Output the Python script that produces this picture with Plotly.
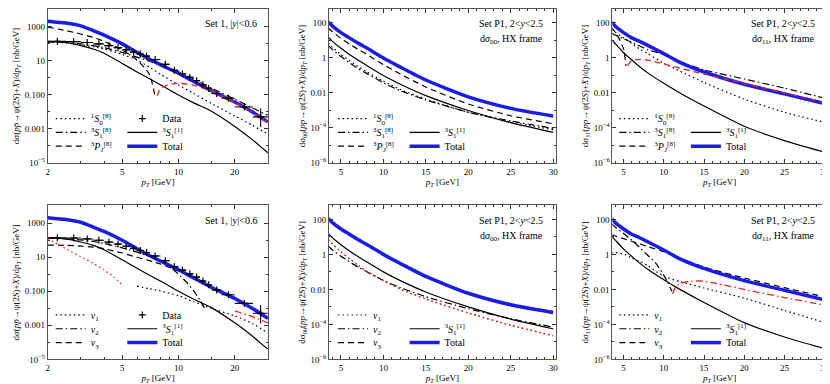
import plotly.graph_objects as go
from plotly.subplots import make_subplots

# ---------------- Tevatron, Set 1, |y|<0.6 (left column) ----------------
pt_tev = [2, 2.5, 3, 3.5, 4, 5, 6, 7, 8, 10, 12, 15, 20, 25, 30]
total_tev = [2140, 1660, 1150, 600, 330, 100, 31.6, 12.6, 6.0, 1.86, 0.63, 0.174, 0.038, 0.0095, 0.0026]
cs_tev = [141, 120, 79, 50, 28, 7.1, 2.24, 0.89, 0.40, 0.10, 0.035, 0.011, 0.0014, 0.00022, 0.00004]
s1_tev = [126, 112, 89, 68, 50, 24, 11.2, 4.2, 1.66, 0.38, 0.126, 0.0316, 0.0058, 0.00158, 0.0005]
s8_tev = [132, 120, 100, 79, 60, 31.6, 16.6, 9.5, 5.6, 2.24, 0.89, 0.25, 0.056, 0.0166, 0.0063]
pj_pt_tev = [2, 2.5, 3, 3.5, 4, 5, 6, 7, 7.5]
pj_tev = [955, 603, 380, 240, 141, 44.7, 11.2, 1.58, 0.079]
pj_neg_pt_tev = [7.7, 8, 9, 10, 12, 15, 20, 25, 30]
pj_neg_tev = [0.089, 0.24, 0.417, 0.479, 0.38, 0.166, 0.0355, 0.0089, 0.0025]

v1_neg_pt_tev = [2, 2.5, 3, 3.5, 4, 4.5, 5]
v1_neg_tev = [126, 31.6, 10.7, 4.47, 1.82, 0.71, 0.24]
v1_pt_tev = [6, 7, 8, 10, 12, 15, 20, 25, 30]
v1_tev = [0.2, 0.141, 0.105, 0.056, 0.025, 0.01, 0.00355, 0.00126, 0.000355]
v2_pt_tev = [2, 2.5, 3, 3.5, 4, 5, 6, 7, 8, 9, 10, 11, 12, 13, 13.8]
v2_tev = [132, 120, 105, 85, 66, 35.5, 20, 11.2, 6.0, 2.8, 1.0, 0.355, 0.112, 0.0316, 0.01]
v2_neg_pt_tev = [20, 25, 30]
v2_neg_tev = [0.0071, 0.00316, 0.0014]
v3_tev = [52.5, 50.1, 45.7, 39.8, 31.6, 17.8, 10, 6.3, 4.0, 1.58, 0.56, 0.158, 0.034, 0.0085, 0.0024]

# CDF data: bin edges, values, errors
data_lo = [2, 2.5, 3, 3.5, 4, 4.5, 5, 5.5, 6, 6.5, 7, 8, 9, 10, 11, 12, 13, 14, 15, 17, 20, 25]
data_hi = [2.5, 3, 3.5, 4, 4.5, 5, 5.5, 6, 6.5, 7, 8, 9, 10, 11, 12, 13, 14, 15, 17, 20, 25, 30]
data_val = [141, 135, 120, 100, 79, 60, 44.7, 33, 25, 19, 12, 6.3, 2.8, 1.78, 1.07, 0.69, 0.4, 0.24,
            0.12, 0.063, 0.0195, 0.0051]
data_err_up = [10, 9, 8, 7, 5, 4, 3, 2.4, 1.8, 1.4, 0.9, 0.45, 0.2, 0.13, 0.08, 0.05, 0.03, 0.02,
               0.01, 0.006, 0.003, 0.0107]
data_err_dn = [10, 9, 8, 7, 5, 4, 3, 2.4, 1.8, 1.4, 0.9, 0.45, 0.2, 0.13, 0.08, 0.05, 0.03, 0.02,
               0.01, 0.006, 0.003, 0.0038]

# ---------------- LHCb, Set P1, 2<y<2.5 ----------------
pt_lhcb = [3.5, 4, 5, 6, 7, 8, 10, 12, 15, 20, 25, 30]
# d sigma_00
total00 = [112, 66, 28.2, 14.1, 7.08, 3.8, 1.0, 0.302, 0.055, 0.006, 0.00132, 0.00048]
pj00 = [52.5, 31.6, 13.2, 6.3, 3.16, 1.66, 0.417, 0.12, 0.0219, 0.00234, 0.0005, 0.000174]
cs00 = [15.5, 8.9, 3.55, 1.58, 0.76, 0.38, 0.1, 0.0316, 0.0071, 0.001, 0.0002, 0.000056]
s1_00 = [7.1, 4.0, 1.58, 0.71, 0.33, 0.166, 0.047, 0.0158, 0.00447, 0.00079, 0.000224, 0.000079]
s8_00 = [5.25, 3.0, 1.2, 0.54, 0.25, 0.132, 0.038, 0.0135, 0.004, 0.00079, 0.00025, 0.000095]
v1_neg00 = [7.1, 4.0, 1.41, 0.56, 0.24, 0.112, 0.0316, 0.0105, 0.0028, 0.00045, 0.000089, 0.0000224]
v2_00 = [2.95, 1.78, 0.79, 0.38, 0.19, 0.105, 0.0316, 0.0126, 0.0038, 0.00079, 0.00021, 0.00007]
v3_00 = [100, 60, 25.7, 12.9, 6.5, 3.47, 0.89, 0.27, 0.049, 0.0054, 0.00117, 0.00043]
# d sigma_11
total11 = [112, 63, 28.2, 14.1, 8.9, 5.25, 1.78, 0.56, 0.158, 0.0316, 0.0089, 0.0025]
cs11 = [11.2, 6.3, 2.0, 0.79, 0.316, 0.141, 0.0355, 0.01, 0.00178, 0.000126, 0.000019, 0.0000041]
s1_11 = [41.7, 28.2, 14.1, 7.1, 3.16, 1.78, 0.5, 0.178, 0.04, 0.00447, 0.00079, 0.00021]
s8_11 = [26.9, 20, 12.6, 7.9, 4.8, 3.0, 1.58, 0.63, 0.209, 0.063, 0.019, 0.005]
pj_pt11 = [3.5, 4, 4.5, 5, 5.3]
pj11 = [56, 28.2, 11.2, 3.16, 0.355]
pj_neg_pt11 = [5.5, 6, 7, 8, 10, 12, 15, 20, 25, 30]
pj_neg11 = [0.355, 0.71, 0.83, 0.76, 0.447, 0.263, 0.12, 0.035, 0.01, 0.0028]
v1_11 = [1.26, 1.26, 1.05, 0.63, 0.4, 0.224, 0.056, 0.028, 0.012, 0.00316, 0.00063, 0.000126]
v2_pt11 = [3.5, 4, 5, 6, 7, 8, 9, 10, 10.5, 11]
v2_11 = [56, 35.5, 15.8, 6.6, 2.5, 0.89, 0.316, 0.063, 0.025, 0.0079]
v2_neg_pt11 = [11.1, 11.5, 12, 13, 14.5, 16, 18, 20, 25, 30]
v2_neg11 = [0.0056, 0.0141, 0.0209, 0.0282, 0.0302, 0.024, 0.0158, 0.01, 0.0034, 0.00126]
v3_11 = [13.2, 11.2, 7.9, 5.6, 4.0, 2.8, 1.41, 0.6, 0.19, 0.0447, 0.0126, 0.0037]

FONT = "Liberation Serif"
BLACK = "black"
RED = "#e52420"
BLUE = "#1c1ce8"
DOT = "1.5px,3px"
DASHDOT = "7px,3px,1.5px,3px"
DASH = "6px,4px"

S10 = "<sup>1</sup><i>S</i><sub>0</sub><sup>[8]</sup>"
S18 = "<sup>3</sup><i>S</i><sub>1</sub><sup>[8]</sup>"
PJ8 = "<sup>3</sup><i>P</i><sub><i>J</i></sub><sup>[8]</sup>"
S11 = "<sup>3</sup><i>S</i><sub>1</sub><sup>[1]</sup>"
V1 = "<i>v</i><sub>1</sub>"
V2 = "<i>v</i><sub>2</sub>"
V3 = "<i>v</i><sub>3</sub>"

W, H = 830, 384
col_px = [(38, 260), (321, 549), (606, 822)]
row_px = [(1, 157), (200, 356)]

# legend key positions (px): first symbol x per column, row centres per row of panels
sym_x = [51, 335, 618]
leg_col_dx = [0, 72]
row_y = [[112, 126, 140], [311, 325, 339]]

fig = make_subplots(rows=2, cols=3)
legends = {}


def legend_for(row, col, lcol, lrow):
    lid = f"legend{len(legends) + 2}"
    legends[lid] = dict(
        x=(sym_x[col - 1] - 10 + leg_col_dx[lcol]) / W, y=1 - row_y[row - 1][lrow] / H,
        xanchor="left", yanchor="middle", orientation="v", itemwidth=30,
        bgcolor="rgba(0,0,0,0)", borderwidth=0, visible=True,
        font=dict(size=10, family=FONT, color="black"))
    return lid


def add(row, col, x, y, color, width, dash, name=None, key=None):
    leg = legend_for(row, col, *key) if key else None
    fig.add_trace(go.Scatter(
        x=x, y=y, mode="lines", name=name or "",
        line=dict(color=color, width=width, dash=dash, shape="spline", smoothing=0.6),
        showlegend=leg is not None, legend=leg, hoverinfo="skip"),
        row=row, col=col)


def add_data(row, col, key):
    fig.add_trace(go.Scatter(
        x=[(a + b) / 2 for a, b in zip(data_lo, data_hi)], y=data_val, mode="markers",
        name="Data", legend=legend_for(row, col, *key), showlegend=True,
        marker=dict(symbol="cross-thin", size=5, line=dict(color=BLACK, width=1.2)),
        error_x=dict(type="data", array=[(b - a) / 2 for a, b in zip(data_lo, data_hi)],
                     color=BLACK, thickness=1.1, width=0),
        error_y=dict(type="data", array=data_err_up, arrayminus=data_err_dn,
                     color=BLACK, thickness=1.1, width=0)),
        row=row, col=col)


# panel 1: top-left
add(1, 1, pt_tev, s1_tev, BLACK, 1.2, DOT, S10, (0, 0))
add(1, 1, pt_tev, s8_tev, BLACK, 1.2, DASHDOT, S18, (0, 1))
add(1, 1, pj_pt_tev, pj_tev, BLACK, 1.2, DASH, PJ8, (0, 2))
add(1, 1, pt_tev, cs_tev, BLACK, 1.2, "solid", S11, (1, 1))
add(1, 1, pt_tev, total_tev, BLUE, 3.5, "solid", "Total", (1, 2))
add(1, 1, pj_neg_pt_tev, pj_neg_tev, RED, 1.3, DASH)
add_data(1, 1, (1, 0))

# panel 2: top-middle
add(1, 2, pt_lhcb, s1_00, BLACK, 1.2, DOT, S10, (0, 0))
add(1, 2, pt_lhcb, s8_00, BLACK, 1.2, DASHDOT, S18, (0, 1))
add(1, 2, pt_lhcb, pj00, BLACK, 1.2, DASH, PJ8, (0, 2))
add(1, 2, pt_lhcb, cs00, BLACK, 1.2, "solid", S11, (1, 1))
add(1, 2, pt_lhcb, total00, BLUE, 3.5, "solid", "Total", (1, 2))

# panel 3: top-right
add(1, 3, pt_lhcb, s1_11, BLACK, 1.2, DOT, S10, (0, 0))
add(1, 3, pt_lhcb, s8_11, BLACK, 1.2, DASHDOT, S18, (0, 1))
add(1, 3, pj_pt11, pj11, BLACK, 1.2, DASH, PJ8, (0, 2))
add(1, 3, pt_lhcb, cs11, BLACK, 1.2, "solid", S11, (1, 1))
add(1, 3, pt_lhcb, total11, BLUE, 3.5, "solid", "Total", (1, 2))
add(1, 3, pj_neg_pt11, pj_neg11, RED, 1.3, DASH)

# panel 4: bottom-left
add(2, 1, v1_pt_tev, v1_tev, BLACK, 1.2, DOT, V1, (0, 0))
add(2, 1, v2_pt_tev, v2_tev, BLACK, 1.2, DASHDOT, V2, (0, 1))
add(2, 1, pt_tev, v3_tev, BLACK, 1.2, DASH, V3, (0, 2))
add(2, 1, pt_tev, cs_tev, BLACK, 1.2, "solid", S11, (1, 1))
add(2, 1, pt_tev, total_tev, BLUE, 3.5, "solid", "Total", (1, 2))
add(2, 1, v1_neg_pt_tev, v1_neg_tev, RED, 1.3, DOT)
add(2, 1, v2_neg_pt_tev, v2_neg_tev, RED, 1.3, DASHDOT)
add_data(2, 1, (1, 0))

# panel 5: bottom-middle (v1 negative everywhere: black key trace drawn under the red curve)
add(2, 2, pt_lhcb, v1_neg00, BLACK, 0.9, DOT, V1, (0, 0))
add(2, 2, pt_lhcb, v2_00, BLACK, 1.2, DASHDOT, V2, (0, 1))
add(2, 2, pt_lhcb, v3_00, BLACK, 1.2, DASH, V3, (0, 2))
add(2, 2, pt_lhcb, cs00, BLACK, 1.2, "solid", S11, (1, 1))
add(2, 2, pt_lhcb, total00, BLUE, 3.5, "solid", "Total", (1, 2))
add(2, 2, pt_lhcb, v1_neg00, RED, 1.5, DOT)

# panel 6: bottom-right
add(2, 3, pt_lhcb, v1_11, BLACK, 1.2, DOT, V1, (0, 0))
add(2, 3, v2_pt11, v2_11, BLACK, 1.2, DASHDOT, V2, (0, 1))
add(2, 3, pt_lhcb, v3_11, BLACK, 1.2, DASH, V3, (0, 2))
add(2, 3, pt_lhcb, cs11, BLACK, 1.2, "solid", S11, (1, 1))
add(2, 3, pt_lhcb, total11, BLUE, 3.5, "solid", "Total", (1, 2))
add(2, 3, v2_neg_pt11, v2_neg11, RED, 1.3, DASHDOT)

# ---------------- layout ----------------
axis_common = dict(showline=True, linecolor="#555", linewidth=1, mirror="allticks",
                   ticks="inside", ticklen=4, tickwidth=0.8, tickcolor="#333",
                   showgrid=False, zeroline=False, tickfont=dict(size=9, family=FONT))

ytitles = [
    "dσ(<i>p</i><i>p̄</i>→ψ(2<i>S</i>)+<i>X</i>)/d<i>p<sub>T</sub></i> [nb/GeV]",
    "dσ<sub>00</sub>(<i>pp</i>→ψ(2<i>S</i>)+<i>X</i>)/d<i>p<sub>T</sub></i> [nb/GeV]",
    "dσ<sub>11</sub>(<i>pp</i>→ψ(2<i>S</i>)+<i>X</i>)/d<i>p<sub>T</sub></i> [nb/GeV]",
]

for r in range(2):
    for c in range(3):
        row, col = r + 1, c + 1
        x0, x1 = col_px[c]
        y0, y1 = row_px[r]
        fig.update_xaxes(domain=[x0 / W, x1 / W], row=row, col=col, **axis_common,
                         title=dict(text="<i>p<sub>T</sub></i> [GeV]", font=dict(size=9, family=FONT),
                                    standoff=0))
        fig.update_yaxes(domain=[1 - y1 / H, 1 - y0 / H], row=row, col=col, **axis_common,
                         type="log",
                         title=dict(text=ytitles[c], font=dict(size=9, family=FONT), standoff=3))
        if c == 0:
            fig.update_xaxes(type="log", range=[0.301, 1.481],
                             tickvals=[2, 5, 10, 20], ticktext=["2", "5", "10", "20"],
                             minor=dict(tickvals=[3, 4, 6, 7, 8, 9, 15, 30], ticks="inside", ticklen=2),
                             row=row, col=col)
            fig.update_yaxes(range=[-5, 4.05],
                             tickvals=[1000, 10, 0.1, 0.001, 1e-5],
                             ticktext=["1000", "10", "0.100", "0.001", "10<sup>−5</sup>"],
                             minor=dict(tickvals=[100, 1, 0.01, 1e-4], ticks="inside", ticklen=2),
                             row=row, col=col)
        else:
            fig.update_xaxes(range=[3.6, 30.3], tickvals=[5, 10, 15, 20, 25, 30],
                             minor=dict(dtick=1, ticks="inside", ticklen=2),
                             row=row, col=col)
            fig.update_yaxes(range=[-6, 2.8],
                             tickvals=[100, 1, 0.01, 1e-4, 1e-6],
                             ticktext=["100", "1", "0.01", "10<sup>−4</sup>", "10<sup>−6</sup>"],
                             minor=dict(tickvals=[10, 0.1, 0.001, 1e-5], ticks="inside", ticklen=2),
                             row=row, col=col)

# panel labels
labels = {
    (0, 0): ["Set 1, |<i>y</i>|&lt;0.6"],
    (0, 1): ["Set P1, 2&lt;<i>y</i>&lt;2.5", "d<i>σ</i><sub>00</sub>, HX frame"],
    (0, 2): ["Set P1, 2&lt;<i>y</i>&lt;2.5", "d<i>σ</i><sub>11</sub>, HX frame"],
    (1, 0): ["Set 1, |y|&lt;0.6"],
    (1, 1): ["Set P1, 2&lt;<i>y</i>&lt;2.5", "d<i>σ</i><sub>00</sub>, HX frame"],
    (1, 2): ["Set P1, 2&lt;<i>y</i>&lt;2.5", "d<i>σ</i><sub>11</sub>, HX frame"],
}
for (r, c), lines in labels.items():
    n = r * 3 + c + 1
    ax = "" if n == 1 else str(n)
    for i, t in enumerate(lines):
        fig.add_annotation(text=t, xref=f"x{ax} domain", yref=f"y{ax} domain",
                           x=0.955, y=0.905 - i * 0.105, xanchor="right", yanchor="middle",
                           showarrow=False, font=dict(size=10, family=FONT, color="black"))

fig.update_layout(
    width=W, height=H,
    margin=dict(l=0, r=0, t=0, b=0),
    paper_bgcolor="white", plot_bgcolor="white",
    font=dict(family=FONT, size=9, color="black"),
    showlegend=True,
    legend=dict(visible=False),
    **legends,
)

fig.write_html("out.html")
